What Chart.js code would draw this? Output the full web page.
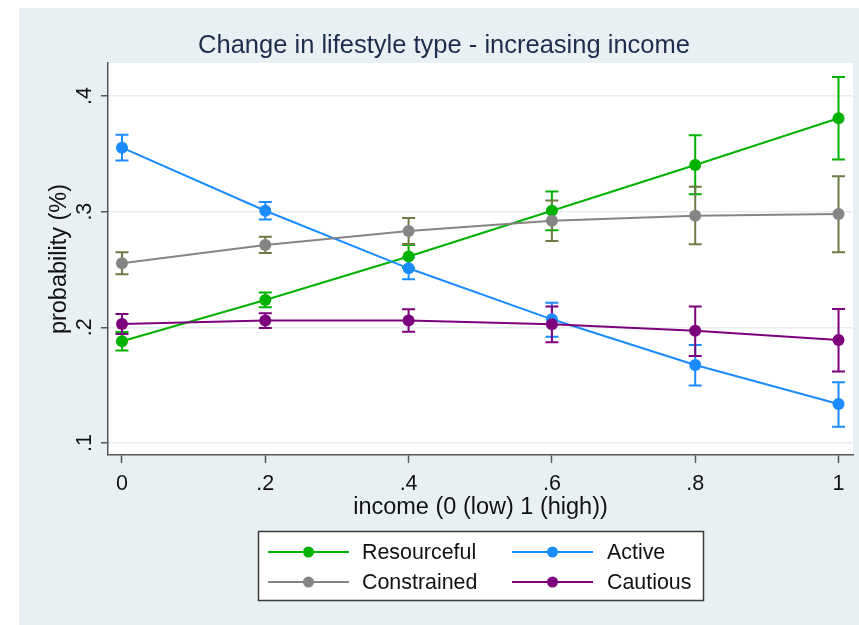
<!DOCTYPE html>
<html>
<head>
<meta charset="utf-8">
<script src="https://cdn.jsdelivr.net/npm/chart.js@4.4.1/dist/chart.umd.min.js"></script>
<style>
  html, body { margin: 0; padding: 0; background: #ffffff; }
  #wrap { width: 859px; height: 625px; }
</style>
</head>
<body>
<div id="wrap"><canvas id="chart" width="859" height="625"></canvas></div>
<script>
// Income levels on the x axis
const incomeLevels = [0, 0.2, 0.4, 0.6, 0.8, 1];

// Predicted probabilities with lower / upper confidence bounds
const resourceful   = [0.188, 0.2236, 0.2612, 0.3008, 0.3403, 0.3807];
const resourcefulLo = [0.180, 0.2173, 0.2512, 0.2840, 0.3150, 0.3450];
const resourcefulHi = [0.196, 0.2300, 0.2712, 0.3175, 0.3660, 0.4165];

const active   = [0.3553, 0.3008, 0.2510, 0.2069, 0.1674, 0.1337];
const activeLo = [0.3441, 0.2933, 0.2415, 0.1919, 0.1496, 0.1141];
const activeHi = [0.3665, 0.3083, 0.2605, 0.2213, 0.1847, 0.1525];

const constrained   = [0.2553, 0.2712, 0.2833, 0.2922, 0.2965, 0.2980];
const constrainedLo = [0.2458, 0.2642, 0.2721, 0.2747, 0.2718, 0.2649];
const constrainedHi = [0.2648, 0.2782, 0.2945, 0.3097, 0.3216, 0.3306];

const cautious   = [0.2029, 0.2058, 0.2058, 0.2026, 0.1971, 0.1891];
const cautiousLo = [0.1942, 0.1995, 0.1961, 0.1871, 0.1752, 0.1617];
const cautiousHi = [0.2116, 0.2121, 0.2155, 0.2179, 0.2179, 0.2159];

// Axis ticks
const xTickValues = [0, 0.2, 0.4, 0.6, 0.8, 1];
const xTickLabels = ['0', '.2', '.4', '.6', '.8', '1'];
const yTickValues = [0.1, 0.2, 0.3, 0.4];
const yTickLabels = ['.1', '.2', '.3', '.4'];

const seriesNames = ['Resourceful', 'Active', 'Constrained', 'Cautious'];

const FONT = '"Liberation Sans", Arial, sans-serif';
const COLORS = {
  Resourceful: '#00b200',
  Active: '#1a8cff',
  Constrained: '#858585',
  Cautious: '#7d007d'
};
const CI_COLORS = {
  Resourceful: '#00b200',
  Active: '#1a8cff',
  Constrained: '#6c7a45',
  Cautious: '#7d007d'
};

function toPoints(values) {
  return incomeLevels.map((x, i) => ({ x: x, y: values[i] }));
}

function makeDataset(name, values, lo, hi, order) {
  return {
    label: name,
    data: toPoints(values),
    lo: lo,
    hi: hi,
    borderColor: COLORS[name],
    backgroundColor: COLORS[name],
    pointBackgroundColor: COLORS[name],
    pointBorderColor: COLORS[name],
    pointRadius: 6,
    pointBorderWidth: 0,
    borderWidth: 2,
    tension: 0,
    fill: false,
    order: order
  };
}

// Page frame, plot region, confidence intervals
const framePlugin = {
  id: 'frame',
  beforeDraw(chart) {
    const ctx = chart.ctx;
    const a = chart.chartArea;
    ctx.save();
    ctx.fillStyle = '#ffffff';
    ctx.fillRect(0, 0, chart.width, chart.height);
    ctx.fillStyle = '#e8f0f3';
    ctx.fillRect(19, 8, chart.width - 19, chart.height - 8);
    ctx.fillStyle = '#ffffff';
    ctx.fillRect(a.left, a.top, a.right - a.left, a.bottom - a.top - 1);
    ctx.restore();
  },
  beforeDatasetsDraw(chart) {
    const ctx = chart.ctx;
    const xs = chart.scales.x;
    const ys = chart.scales.y;
    const a = chart.chartArea;
    ctx.save();
    ctx.beginPath();
    ctx.rect(a.left, a.top, a.right - a.left, a.bottom - a.top);
    ctx.clip();
    ctx.lineWidth = 2;
    chart.data.datasets.forEach(ds => {
      ctx.strokeStyle = CI_COLORS[ds.label];
      ds.data.forEach((p, i) => {
        const x = xs.getPixelForValue(p.x);
        const yLo = ys.getPixelForValue(ds.lo[i]);
        const yHi = ys.getPixelForValue(ds.hi[i]);
        const cap = 6.5;
        ctx.beginPath();
        ctx.moveTo(x, yLo); ctx.lineTo(x, yHi);
        ctx.moveTo(x - cap, yLo); ctx.lineTo(x + cap, yLo);
        ctx.moveTo(x - cap, yHi); ctx.lineTo(x + cap, yHi);
        ctx.stroke();
      });
    });
    ctx.restore();
  },
  afterDraw(chart) {
    const ctx = chart.ctx;
    const a = chart.chartArea;
    const ys = chart.scales.y;
    ctx.save();

    // Title
    ctx.fillStyle = '#1e2d4e';
    ctx.font = '25.5px ' + FONT;
    ctx.textAlign = 'center';
    ctx.textBaseline = 'middle';
    ctx.fillText('Change in lifestyle type - increasing income', 444, 46);

    // Y tick labels, rotated like the axis title
    ctx.fillStyle = '#111111';
    ctx.font = '21.5px ' + FONT;
    ys.ticks.forEach((t, i) => {
      const y = ys.getPixelForValue(t.value);
      ctx.save();
      ctx.translate(91, y);
      ctx.rotate(-Math.PI / 2);
      ctx.textAlign = 'center';
      ctx.textBaseline = 'alphabetic';
      ctx.fillText(yTickLabels[yTickValues.indexOf(t.value)] ?? '', 0, 0);
      ctx.restore();
    });

    // Axis titles
    ctx.font = '23.5px ' + FONT;
    ctx.textAlign = 'center';
    ctx.textBaseline = 'middle';
    ctx.fillText('income (0 (low) 1 (high))', (a.left + a.right) / 2, 508);
    ctx.save();
    ctx.translate(60, (a.top + a.bottom) / 2);
    ctx.rotate(-Math.PI / 2);
    ctx.fillText('probability (%)', 0, 0);
    ctx.restore();

    // Legend: two columns, row by row
    ctx.fillStyle = '#ffffff';
    ctx.fillRect(258.5, 531.5, 445, 69);
    ctx.strokeStyle = '#3a3a3a';
    ctx.lineWidth = 1.5;
    ctx.strokeRect(258.5, 531.5, 445, 69);
    const cols = [{ x0: 268, x1: 349, text: 362 }, { x0: 512, x1: 593, text: 607 }];
    const rows = [552, 582];
    chart.data.datasets.forEach((ds, i) => {
      const c = cols[i % 2];
      const y = rows[Math.floor(i / 2)];
      ctx.strokeStyle = ds.borderColor;
      ctx.lineWidth = 2;
      ctx.beginPath();
      ctx.moveTo(c.x0, y); ctx.lineTo(c.x1, y);
      ctx.stroke();
      ctx.fillStyle = ds.borderColor;
      ctx.beginPath();
      ctx.arc((c.x0 + c.x1) / 2, y, 5.5, 0, Math.PI * 2);
      ctx.fill();
      ctx.fillStyle = '#111111';
      ctx.font = '21.4px ' + FONT;
      ctx.textAlign = 'left';
      ctx.textBaseline = 'middle';
      ctx.fillText(ds.label, c.text, y + 1);
    });
    ctx.restore();
  }
};

const chart = new Chart(document.getElementById('chart'), {
  type: 'line',
  data: {
    datasets: [
      makeDataset('Resourceful', resourceful, resourcefulLo, resourcefulHi, 4),
      makeDataset('Active', active, activeLo, activeHi, 3),
      makeDataset('Constrained', constrained, constrainedLo, constrainedHi, 2),
      makeDataset('Cautious', cautious, cautiousLo, cautiousHi, 1)
    ]
  },
  options: {
    responsive: false,
    animation: false,
    events: [],
    layout: { padding: { top: 63, right: 5, left: 0, bottom: 0 } },
    plugins: {
      legend: { display: false },
      title: { display: false },
      tooltip: { enabled: false }
    },
    scales: {
      x: {
        type: 'linear',
        min: -0.0195,
        max: 1.0202,
        afterBuildTicks(scale) { scale.ticks = xTickValues.map(v => ({ value: v })); },
        afterFit(scale) { scale.height = 170; },
        ticks: {
          color: '#111111',
          font: { family: FONT, size: 21.5 },
          padding: 8,
          maxRotation: 0,
          callback: (v) => xTickLabels[xTickValues.indexOf(v)] ?? ''
        },
        grid: { drawOnChartArea: false, drawTicks: true, tickLength: 8, tickColor: '#555555', tickWidth: 1.5 },
        border: { display: true, color: '#555555', width: 1.5 }
      },
      y: {
        type: 'linear',
        min: 0.0896,
        max: 0.4285,
        afterBuildTicks(scale) { scale.ticks = yTickValues.map(v => ({ value: v })); },
        afterFit(scale) { scale.width = 108; },
        ticks: { display: false },
        grid: { color: '#e6eef0', lineWidth: 1.5, drawTicks: true, tickLength: 7, tickColor: '#555555', tickWidth: 1.5 },
        border: { display: true, color: '#555555', width: 1.5 }
      }
    }
  },
  plugins: [framePlugin]
});
</script>
</body>
</html>
